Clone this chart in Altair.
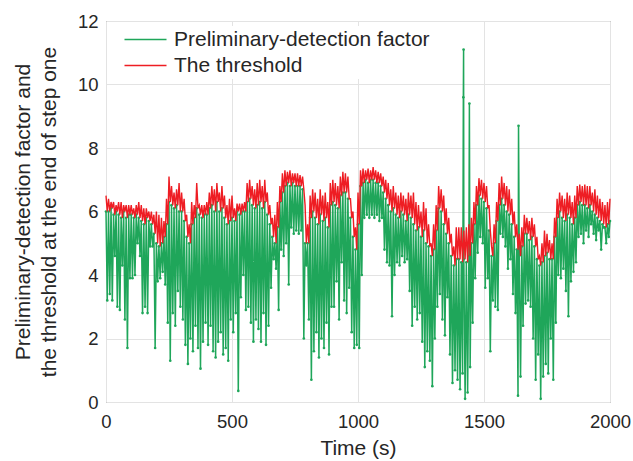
import altair as alt
import pandas as pd

# ---- values (10 s grid) ----
# upper edge of the threshold band (red)
red_hi = [
    6.5, 6.4, 6.3, 6.3, 6.2, 6.3, 6.3, 6.2, 6.2, 6.2,
    6.2, 6.1, 6.2, 6.3, 6.2, 6.1, 6.1, 6.0, 6.0, 5.9,
    6.0, 5.9, 5.8, 5.7, 6.4, 7.1, 6.8, 6.6, 6.7, 6.9,
    6.6, 6.4, 5.9, 5.6, 6.3, 6.2, 6.9, 6.2, 6.2, 6.2,
    6.3, 6.6, 6.8, 6.7, 6.9, 6.6, 6.8, 6.5, 6.2, 6.4,
    6.5, 6.1, 6.25, 6.25, 6.25, 6.3, 6.9, 7.0, 6.8, 6.7,
    6.9, 7.0, 6.8, 7.0, 6.6, 6.2, 5.8, 5.9, 6.3, 6.8,
    7.2, 7.3, 7.25, 7.3, 7.2, 7.2, 7.2, 7.15, 7.1, 6.2,
    5.6, 6.5, 6.7, 6.6, 6.4, 6.7, 6.5, 6.6, 6.3, 6.9,
    7.0, 6.9, 6.8, 7.1, 7.25, 7.2, 7.1, 6.4, 6.0, 5.5,
    6.6, 7.3, 7.35, 7.3, 7.35, 7.3, 7.4, 7.3, 7.25, 7.2,
    7.1, 7.0, 6.9, 6.7, 6.8, 6.6, 6.5, 6.6, 6.5, 6.4,
    6.6, 6.5, 6.6, 6.3, 6.2, 6.0, 6.3, 6.1, 5.6, 5.0,
    5.6, 6.2, 6.8, 6.7, 6.5, 6.1, 5.8, 5.3, 4.9, 5.5,
    5.5, 5.5, 5.4, 5.5, 5.6, 5.8, 6.3, 6.8, 7.05, 7.0,
    6.9, 6.8, 6.2, 4.9, 5.6, 6.3, 6.9, 7.1, 6.9, 6.8,
    6.7, 6.4, 6.0, 5.6, 5.3, 5.5, 5.9, 5.8, 5.7, 5.8,
    5.6, 5.2, 4.6, 5.0, 5.4, 5.3, 5.1, 5.0, 5.8, 6.4,
    6.6, 6.5, 6.4, 6.6, 6.5, 6.3, 6.5, 6.8, 6.85, 6.8,
    6.85, 6.8, 6.8, 6.6, 6.7, 6.5, 6.4, 6.3, 6.2, 6.3, 6.4,
]
# lower edge of the threshold band = top of the factor band
red_lo = [
    6.0, 6.0, 6.1, 5.9, 6.0, 5.9, 5.8, 6.0, 5.8, 5.9,
    5.9, 5.8, 5.9, 5.8, 5.7, 5.6, 5.8, 5.7, 5.6, 5.3,
    5.0, 4.9, 5.0, 5.2, 5.6, 6.3, 6.2, 6.1, 6.2, 6.0,
    6.0, 5.7, 5.2, 5.0, 5.6, 5.8, 6.1, 5.9, 5.8, 5.9,
    5.9, 6.1, 6.2, 6.0, 6.3, 6.0, 6.1, 5.8, 5.6, 5.7,
    5.8, 5.7, 6.0, 5.9, 6.0, 6.0, 6.3, 6.4, 6.2, 6.1,
    6.2, 6.3, 6.1, 6.3, 5.9, 5.6, 5.2, 5.0, 5.5, 6.3,
    6.6, 6.8, 6.9, 6.8, 6.9, 6.8, 6.8, 6.8, 6.7, 5.0,
    5.0, 5.8, 6.0, 5.8, 5.6, 5.9, 5.7, 5.8, 5.5, 6.2,
    6.3, 6.2, 6.1, 6.5, 6.6, 6.6, 6.4, 5.8, 5.2, 4.8,
    5.6, 6.8, 6.9, 7.0, 6.9, 7.0, 7.0, 6.9, 6.9, 6.8,
    6.6, 6.4, 6.2, 6.0, 6.1, 5.9, 5.8, 6.0, 5.9, 5.7,
    5.9, 5.8, 5.6, 5.4, 5.5, 5.2, 5.4, 5.0, 4.9, 4.6,
    4.8, 5.4, 6.1, 6.0, 5.6, 5.3, 5.0, 4.6, 4.3, 4.5,
    4.5, 4.4, 4.5, 4.4, 4.6, 5.0, 5.6, 6.2, 6.5, 6.4,
    6.3, 6.1, 5.4, 4.6, 5.0, 5.7, 6.2, 6.4, 6.2, 6.0,
    5.9, 5.6, 5.2, 4.8, 4.6, 4.9, 5.3, 5.3, 5.1, 5.2,
    4.9, 4.5, 4.3, 4.4, 4.6, 4.7, 4.5, 4.5, 5.2, 5.8,
    6.0, 5.8, 5.7, 5.9, 5.8, 5.6, 5.8, 6.2, 6.3, 6.2,
    6.2, 6.1, 6.2, 6.0, 5.9, 5.8, 5.7, 5.6, 5.5, 5.6, 5.7,
]
# lower excursions of the preliminary-detection factor (at t + 5 s)
green_lo = [
    3.2, 3.4, 3.2, 4.6, 3.0, 2.9, 4.3, 2.6, 1.7, 3.9,
    3.9, 4.0, 5.0, 4.6, 2.8, 3.0, 2.8, 4.9, 4.9, 1.7,
    3.8, 3.9, 4.1, 3.7, 2.5, 1.3, 2.8, 2.4, 3.5, 3.0,
    2.6, 1.8, 1.2, 2.0, 1.6, 2.4, 1.7, 1.05, 1.9, 2.5,
    1.8, 2.4, 1.6, 1.4, 1.9, 2.2, 1.5, 1.7, 1.3, 2.6,
    2.2, 2.8, 0.35, 3.3, 4.0, 2.9, 3.0, 2.5, 1.9, 2.6,
    2.3, 1.9, 2.8, 1.8, 2.4, 3.6, 4.5, 4.2, 2.9, 4.8,
    4.6, 5.0, 3.7, 5.5, 5.3, 5.4, 5.3, 5.4, 2.0, 4.3,
    2.6, 0.7, 1.6, 2.2, 1.4, 2.0, 1.7, 2.5, 1.5, 3.0,
    3.0, 3.8, 2.6, 4.4, 3.2, 2.8, 3.6, 2.2, 1.7, 1.8,
    1.7, 4.0, 5.8, 5.9, 5.8, 5.9, 5.8, 5.9, 5.7, 5.8,
    4.8, 4.4, 4.3, 2.7, 4.0, 4.4, 4.3, 4.6, 4.4, 4.5,
    3.5, 2.4, 3.0, 2.6, 2.8, 1.9, 1.1, 1.6, 1.3, 0.5,
    2.0, 3.0, 3.4, 2.6, 2.1, 3.3, 1.5, 0.6, 1.0, 0.7,
    0.4, 0.9, 0.1, 0.3, 1.1, 2.5, 3.9, 4.7, 5.2, 5.0,
    3.6, 3.9, 1.6, 3.2, 3.0, 2.9, 5.3, 5.2, 4.9, 4.2,
    4.5, 3.4, 2.8, 0.2, 0.8, 2.4, 3.1, 3.2, 3.0, 2.0,
    0.7, 1.5, 0.1, 0.8, 1.2, 0.9, 2.0, 0.7, 2.5, 4.0,
    3.9, 4.2, 3.5, 2.7, 3.8, 4.1, 4.4, 5.2, 5.3, 5.0,
    5.4, 5.2, 5.6, 5.3, 5.1, 5.4, 4.8, 5.5, 5.0, 5.2,
]
# isolated upward spikes of the factor
spike_t = [1418, 1419, 1442, 1637]
spike_v = [9.6, 11.1, 9.4, 8.7]

x_ticks = [0, 500, 1000, 1500, 2000]
y_ticks = [0, 2, 4, 6, 8, 10, 12]

G = "Preliminary-detection factor"
R = "The threshold"
GREEN = "#1fa65a"
RED = "#ee1d23"
FONT = "Liberation Sans"

# ---- build tables from the lists ----
g_rows = []
for k, top in enumerate(red_lo):
    g_rows.append((k * 10, top))
    if k < len(green_lo):
        g_rows.append((k * 10 + 5, green_lo[k]))
g_rows += list(zip(spike_t, spike_v))
gdf = pd.DataFrame(g_rows, columns=["t", "v"]).sort_values("t").reset_index(drop=True)
gdf["series"] = G

r_rows = []
for k, hi in enumerate(red_hi):
    r_rows.append((k * 10, hi))
    if k * 10 + 5 <= 2000:
        r_rows.append((k * 10 + 5, red_lo[k]))
rdf = pd.DataFrame(r_rows, columns=["t", "v"])
rdf["series"] = R

color = alt.Color(
    "series:N",
    scale=alt.Scale(domain=[G, R], range=[GREEN, RED]),
    legend=alt.Legend(
        title=None, orient="none", legendX=26, legendY=5,
        symbolType="M-3,0H3", symbolSize=196, symbolStrokeWidth=1.5,
        labelFont=FONT, labelFontSize=21, labelColor="#262626",
        labelOffset=18, rowPadding=4, fillColor="white", padding=3,
        labelLimit=0,
    ),
)

xenc = alt.X(
    "t:Q",
    scale=alt.Scale(domain=[0, 2000], nice=False),
    axis=alt.Axis(values=x_ticks, title="Time (s)", labelFlush=False,
                  format="d", labelPadding=10, titlePadding=7),
)
yenc = alt.Y(
    "v:Q",
    scale=alt.Scale(domain=[0, 12], nice=False),
    axis=alt.Axis(values=y_ticks, format="d",
                  title=["Preliminary-detection factor and",
                         "the threshold at the end of step one"],
                  labelPadding=8, titlePadding=18, titleLineHeight=26),
)

green = alt.Chart(gdf).mark_line(
    strokeWidth=1.5, color=GREEN,
    point=alt.OverlayMarkDef(size=7, filled=True, color=GREEN),
).encode(x=xenc, y=yenc, color=color, order="t:Q")

red = alt.Chart(rdf).mark_line(strokeWidth=1.4).encode(
    x=xenc, y=yenc, color=color, order="t:Q"
)

chart = (
    alt.layer(green, red)
    .properties(
        width=504, height=381, autosize="none",
        padding={"left": 106, "top": 21, "right": 23, "bottom": 59},
        background="white",
    )
    .configure_view(stroke="#666666", strokeWidth=1)
    .configure_axis(
        grid=True, gridColor="#e3e3e3", gridWidth=1, domain=False,
        ticks=False, labelFont=FONT, labelFontSize=18.5, labelColor="#262626",
        titleFont=FONT, titleFontSize=21, titleFontWeight="normal",
        titleColor="#262626", labelOverlap=False,
    )
)

chart.save("out.html", embed_options={"renderer": "svg", "actions": False})
